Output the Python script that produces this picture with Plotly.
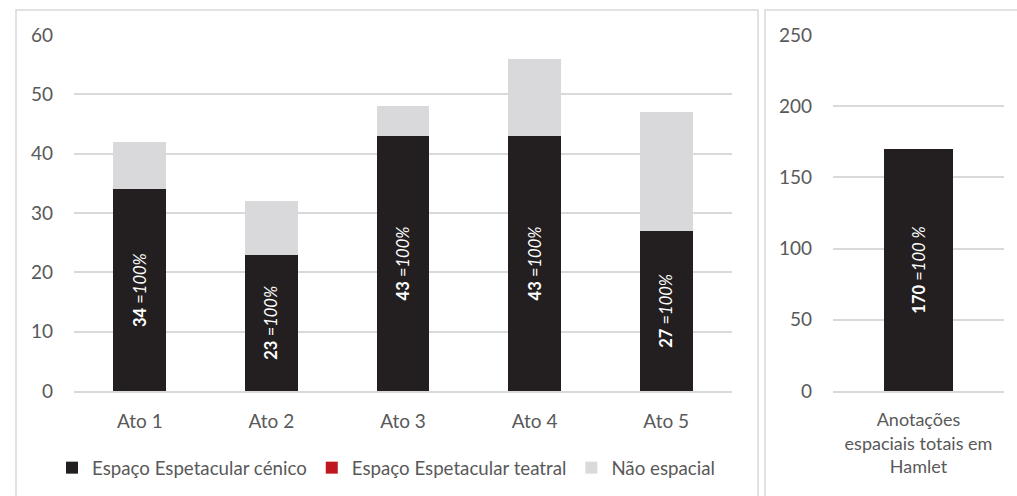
import plotly.graph_objects as go

acts = ["Ato 1", "Ato 2", "Ato 3", "Ato 4", "Ato 5"]
cenico = [34, 23, 43, 43, 27]
teatral = [0, 0, 0, 0, 0]
nao_espacial = [8, 9, 5, 13, 20]

total_label = ["Anotações<br>espaciais totais em<br>Hamlet"]
total_values = [170]

left_ticks = [0, 10, 20, 30, 40, 50, 60]
right_ticks = [0, 50, 100, 150, 200, 250]

DARK = "#231f20"
RED = "#c0161e"
LIGHT = "#d9d9db"
GRID = "#d9d9d9"
TICK = "#595959"
FONT = "Lato"

W, H = 1017, 496

fig = go.Figure()

fig.add_trace(go.Bar(
    x=acts, y=cenico, name="Espaço Espetacular cénico",
    marker=dict(color=DARK, line=dict(width=0)),
    text=[f"<b>{v}</b> =<i>100%</i>" for v in cenico],
    textposition="inside", insidetextanchor="middle", textangle=-90,
    textfont=dict(color="white", size=16.5, family=FONT),
    xaxis="x", yaxis="y",
))
fig.add_trace(go.Bar(
    x=acts, y=teatral, name="Espaço Espetacular teatral",
    marker=dict(color=RED, line=dict(width=0)),
    xaxis="x", yaxis="y",
))
fig.add_trace(go.Bar(
    x=acts, y=nao_espacial, name="Não espacial",
    marker=dict(color=LIGHT, line=dict(width=0)),
    xaxis="x", yaxis="y",
))
fig.add_trace(go.Bar(
    x=total_label, y=total_values, showlegend=False,
    marker=dict(color=DARK, line=dict(width=0)),
    text=[f"<b>{v}</b> =<i>100 %</i>" for v in total_values],
    textposition="inside", insidetextanchor="middle", textangle=-90,
    textfont=dict(color="white", size=16.5, family=FONT),
    xaxis="x2", yaxis="y2",
))

yb = 1 - 391 / H
yt = 1 - 35 / H

fig.update_layout(
    width=W, height=H,
    margin=dict(l=0, r=0, t=0, b=0, autoexpand=False),
    paper_bgcolor="white", plot_bgcolor="white",
    barmode="stack", bargap=0.6,
    font=dict(family=FONT, size=19, color=TICK),
    xaxis=dict(domain=[74 / W, 732 / W], anchor="y", showgrid=False, automargin=False,
               showline=True, linecolor=GRID, linewidth=1.5, ticks="",
               ticklabelstandoff=12, tickfont=dict(size=19, color=TICK)),
    yaxis=dict(domain=[yb, yt], anchor="x", range=[0, 60], tickvals=left_ticks,
               showgrid=True, gridcolor=GRID, gridwidth=1.5, zeroline=False, automargin=False,
               showline=False, ticks="", ticklabelstandoff=20,
               tickfont=dict(size=19, color=TICK)),
    xaxis2=dict(domain=[833 / W, 1004 / W], anchor="y2", showgrid=False, automargin=False,
                showline=True, linecolor=GRID, linewidth=1.5, ticks="",
                ticklabelstandoff=12, tickfont=dict(size=18, color=TICK)),
    yaxis2=dict(domain=[yb, yt], anchor="x2", range=[0, 250], tickvals=right_ticks,
                showgrid=True, gridcolor=GRID, gridwidth=1.5, zeroline=False, automargin=False,
                showline=False, ticks="", ticklabelstandoff=20,
                tickfont=dict(size=19, color=TICK)),
    legend=dict(orientation="h", x=52 / W, xanchor="left", y=1 - 449 / H, yanchor="top",
                font=dict(size=18.7, color=TICK, family=FONT), itemwidth=30,
                traceorder="normal", bgcolor="rgba(0,0,0,0)"),
    shapes=[
        dict(type="rect", xref="paper", yref="paper",
             x0=16 / W, x1=758 / W, y0=-0.05, y1=1 - 10 / H,
             line=dict(color=GRID, width=1.5), fillcolor="rgba(0,0,0,0)", layer="below"),
        dict(type="rect", xref="paper", yref="paper",
             x0=765 / W, x1=1.02, y0=-0.05, y1=1 - 10 / H,
             line=dict(color=GRID, width=1.5), fillcolor="rgba(0,0,0,0)", layer="below"),
    ],
)

fig.write_html(
    "out.html",
    config={"displayModeBar": False},
    post_script="document.body.style.margin='0';document.body.style.padding='0';document.body.style.overflow='hidden';",
)
